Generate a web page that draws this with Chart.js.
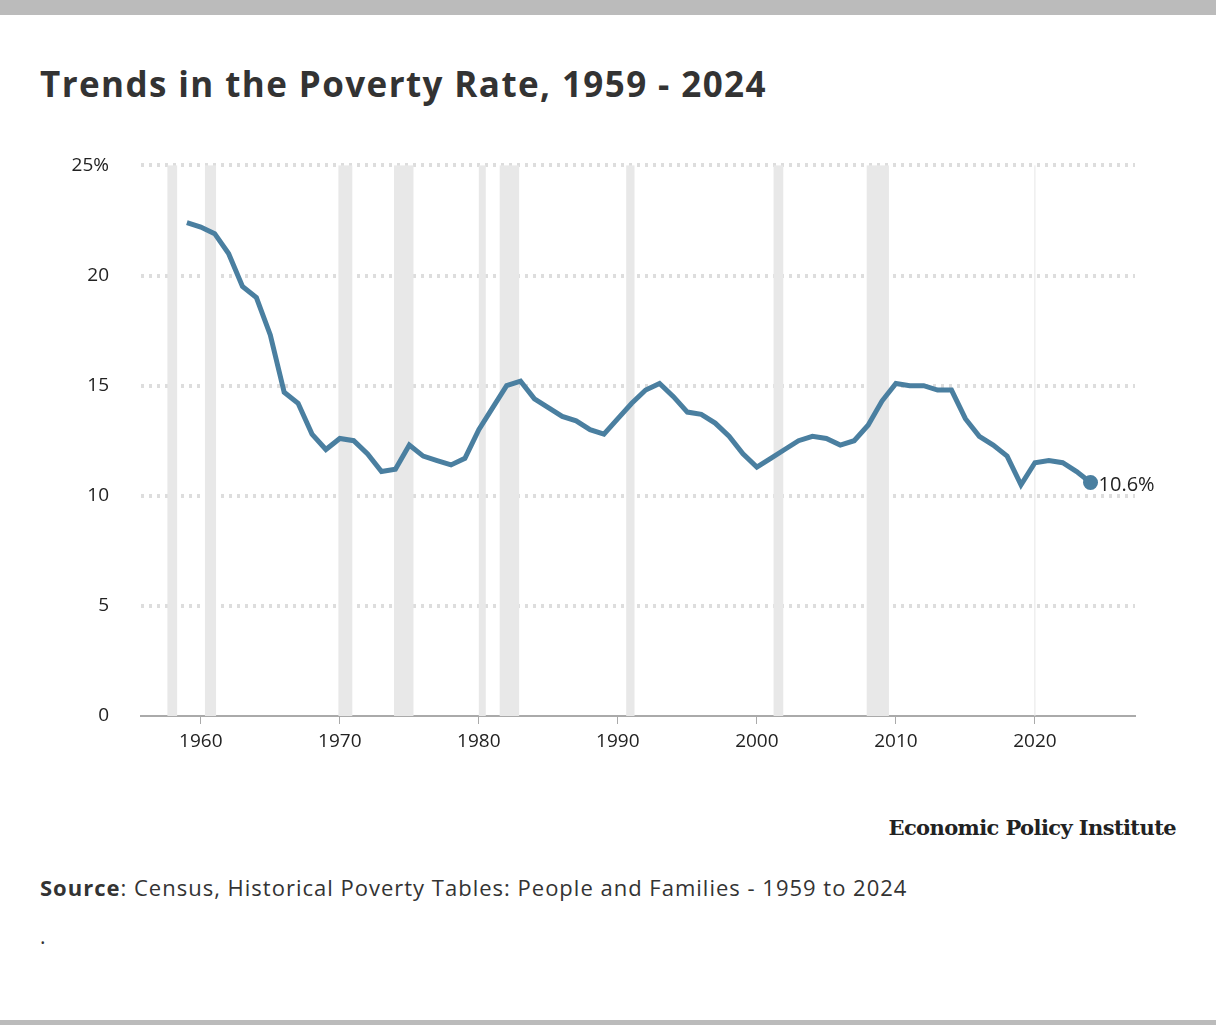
<!DOCTYPE html>
<html><head><meta charset="utf-8">
<script src="https://cdn.jsdelivr.net/npm/chart.js@4"></script>
<style>
body{margin:0;width:1216px;height:1025px;background:#fff;position:relative;font-family:"Open Sans",sans-serif;color:#333;overflow:hidden}
.bar{position:absolute;left:0;width:1216px;background:#bbb}
#title{position:absolute;left:40px;top:60px;font-size:35px;font-weight:bold;color:#333;letter-spacing:1.4px}
#wrap{position:absolute;left:0;top:122px;width:1216px;height:644px}
#epi{position:absolute;right:40px;top:815px;font-family:"DejaVu Serif",serif;font-weight:bold;font-size:21px;color:#222;letter-spacing:-0.6px}
#src{position:absolute;left:40px;top:872px;font-size:22px;color:#333;letter-spacing:1px}
#dot{position:absolute;left:40px;top:922px;font-size:21px}
</style></head><body>
<div class="bar" style="top:0;height:15px"></div>
<div class="bar" style="top:1020px;height:5px"></div>
<div id="title">Trends in the Poverty Rate, 1959 - 2024</div>
<div id="wrap"><canvas id="chart"></canvas></div>
<div id="epi">Economic Policy Institute</div>
<div id="src"><b>Source</b>: Census, Historical Poverty Tables: People and Families - 1959 to 2024</div>
<div id="dot">.</div>
<script>
// Data
const years = [];
for (let y = 1959; y <= 2024; y++) years.push(y);
const rates = [22.4,22.2,21.9,21.0,19.5,19.0,17.3,14.7,14.2,12.8,12.1,12.6,12.5,11.9,11.1,11.2,12.3,11.8,11.6,11.4,
  11.7,13.0,14.0,15.0,15.2,14.4,14.0,13.6,13.4,13.0,12.8,13.5,14.2,14.8,15.1,14.5,13.8,13.7,13.3,12.7,
  11.9,11.3,11.7,12.1,12.5,12.7,12.6,12.3,12.5,13.2,14.3,15.1,15.0,15.0,14.8,14.8,13.5,12.7,12.3,11.8,
  10.5,11.5,11.6,11.5,11.1,10.6];
const recessions = [[1957.6,1958.3],[1960.3,1961.1],[1969.9,1970.9],[1973.9,1975.3],[1980.0,1980.5],
  [1981.5,1982.9],[1990.6,1991.2],[2001.2,2001.9],[2007.9,2009.5]];
const yTicks = [0,5,10,15,20,25];
const xTicks = [1960,1970,1980,1990,2000,2010,2020];

const bands = {
    id: 'bands',
    beforeDatasetsDraw(c) {
        const {ctx, chartArea: a, scales: {x}} = c;
        ctx.save();
        ctx.fillStyle = '#e8e8e8';
        recessions.forEach(r => {
            const x1 = x.getPixelForValue(r[0]), x2 = x.getPixelForValue(r[1]);
            ctx.fillRect(x1, a.top, x2 - x1, a.bottom - a.top);
        });
        ctx.strokeStyle = '#e6e6e6';
        ctx.lineWidth = 1;
        const gx = x.getPixelForValue(2020);
        ctx.beginPath(); ctx.moveTo(gx, a.top); ctx.lineTo(gx, a.bottom); ctx.stroke();
        ctx.restore();
    },
    afterDatasetsDraw(c) {
        const {ctx, scales: {x, y}} = c;
        const i = rates.length - 1;
        ctx.save();
        ctx.font = '20px "Open Sans", sans-serif';
        ctx.fillStyle = '#222';
        ctx.textBaseline = 'middle';
        ctx.fillText(rates[i].toFixed(1) + '%', x.getPixelForValue(years[i]) + 8, y.getPixelForValue(rates[i]) + 3);
        ctx.restore();
    }
};

new Chart(document.getElementById('chart'), {
    type: 'line',
    data: {
        datasets: [{
            data: years.map((yr, i) => ({x: yr, y: rates[i]})),
            borderColor: '#4a7fa0',
            backgroundColor: '#4a7fa0',
            borderWidth: 5,
            tension: 0,
            pointRadius: years.map((yr, i) => i === years.length - 1 ? 5 : 0)
        }]
    },
    options: {
        responsive: true,
        maintainAspectRatio: false,
        animation: false,
        layout: {padding: {top: 13, right: 81, left: 0, bottom: 0}},
        plugins: {legend: {display: false}, tooltip: {enabled: false}},
        scales: {
            x: {
                type: 'linear', min: 1955.7, max: 2027.2,
                afterBuildTicks: s => { s.ticks = xTicks.map(v => ({value: v})); },
                afterFit: s => { s.height = 50; },
                grid: {drawOnChartArea: false, color: '#aaa', tickLength: 8},
                border: {color: '#aaa', width: 2},
                ticks: {color: '#222', font: {size: 19, family: 'Open Sans'}, padding: 6, maxRotation: 0,
                    callback: v => String(v)}
            },
            y: {
                min: 0, max: 25,
                afterBuildTicks: s => { s.ticks = yTicks.map(v => ({value: v})); },
                afterFit: s => { s.width = 141; },
                border: {display: false, dash: [3, 5]},
                grid: {color: c => c.tick.value === 0 ? 'rgba(0,0,0,0)' : '#ddd', lineWidth: 4, drawTicks: false},
                ticks: {color: '#222', font: {size: 19, family: 'Open Sans'}, padding: 32,
                    callback: v => v === 25 ? '25%' : v}
            }
        }
    },
    plugins: [bands]
});
</script>
</body></html>
